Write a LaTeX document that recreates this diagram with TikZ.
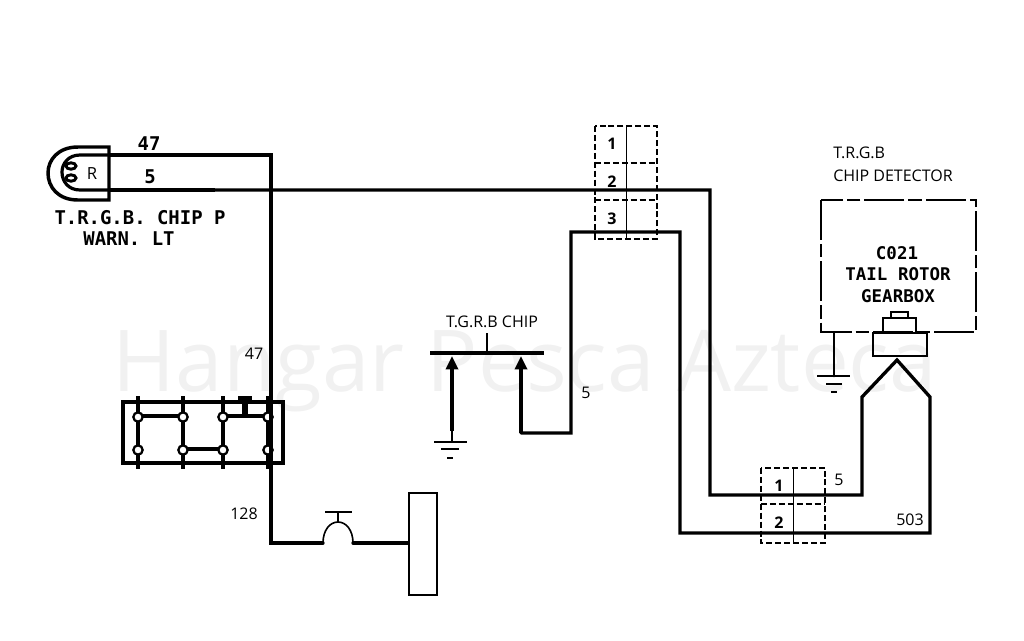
\documentclass[tikz,border=0pt]{standalone}
\usepackage{fontspec}
\setmainfont{Open Sans}
\newfontfamily\scanfont{DejaVu Sans Mono}
\definecolor{wmark}{gray}{0.945}
\usetikzlibrary{arrows.meta}
\tikzset{
  wire/.style={line width=2.5pt,line join=miter,line cap=round},
  thinwire/.style={line width=1.1pt},
  scanwire/.style={line width=2.4pt,line cap=butt},
  conn/.style={line width=1.1pt,dash pattern=on 4.5pt off 2.2pt},
  lbl/.style={inner sep=0pt,font=\fontsize{12}{14}\selectfont},
  numlbl/.style={inner sep=0pt,font=\fontsize{12}{14}\selectfont\bfseries},
  scan/.style={inner sep=0pt,font=\scanfont\bfseries\fontsize{14.2}{16}\selectfont},
  scanb/.style={inner sep=0pt,font=\scanfont\bfseries\fontsize{13.1}{15}\selectfont},
  pin/.style={circle,draw,line width=1.7pt,fill=white,minimum size=7pt,inner sep=0pt},
  arrowwire/.style={line width=2.5pt,-{Triangle[length=10pt,width=9pt]}},
  board/.style={line width=2.6pt},
  gnd/.style={line width=1.6pt}
}
\begin{document}
\begin{tikzpicture}[x=0.75pt,y=-0.75pt]
\useasboundingbox (0,0) rectangle (1024,640);
% watermark
\node[inner sep=0pt,text=wmark,font=\fontsize{64}{70}\selectfont] (wm) at (525,371) {Hangar Pesca Azteca};
% lamp
\coordinate (lt) at (109,155);
\coordinate (lb) at (109,190);
\draw[line width=2.6pt] (109,147) -- (78,147) .. controls (58,147) and (48,160) .. (48,173) .. controls (48,187) and (58,200) .. (78,200) -- (109,200) -- cycle;
\draw[scanwire] (lt) -- (80,155) .. controls (68,155) and (62,164) .. (62,172) .. controls (62,181) and (68,190) .. (80,190) -- (lb);
\draw[line width=2.2pt] (71,166) ellipse[x radius=5,y radius=3.2];
\draw[line width=2.2pt] (71,178) ellipse[x radius=5,y radius=3.2];
\node[inner sep=0pt,font=\fontsize{12.5}{14}\selectfont] (r) at (92,174) {R};
\node[scan] (n47a) at (149,144) {47};
\node[scan] (n5a) at (150,177) {5};
\node[scan] (lampa) at (140,218) {T.R.G.B. CHIP P};
\node[scan] (lampb) at (129,239) {WARN. LT};
% wire 47
\coordinate (a1) at (215,155);
\coordinate (a2) at (271,155);
\coordinate (a3) at (271,543);
\coordinate (sw1) at (323,543);
\coordinate (sw2) at (353,543);
\coordinate (swt) at (338,522);
\coordinate (swb) at (338,512);
\draw[scanwire] (lt) -- (a1);
\draw[wire] (a1) -- (a2) -- (a3) -- (sw1);
\draw[line width=1.2pt] (sw1) .. controls (323,530) and (330,522) .. (swt) .. controls (346,522) and (353,530) .. (sw2);
\draw[thinwire] (swt) -- (swb);
\draw[thinwire] (325,512) -- (352,512);
\node[draw,line width=1.5pt,minimum width=21pt,minimum height=76pt,inner sep=0pt] (pad) at (422.5,544) {};
\coordinate (padin) at (408,543);
\draw[wire] (sw2) -- (padin);
% wire 5 long
\coordinate (b1) at (215,190);
\coordinate (b2) at (710,190);
\coordinate (b3) at (710,495);
\coordinate (b4) at (862,495);
\coordinate (b5) at (862,397);
\coordinate (apex) at (897,360);
\coordinate (c1) at (930,397);
\coordinate (c2) at (930,533);
\coordinate (c3) at (680,533);
\coordinate (c4) at (680,232);
\coordinate (c5) at (571,232);
\coordinate (c6) at (571,433);
\coordinate (c7) at (521,433);
\coordinate (c8) at (521,356);
\coordinate (g1) at (452,431);
\coordinate (g2) at (452,356);
\draw[scanwire] (lb) -- (b1);
\draw[wire] (b1) -- (b2) -- (b3) -- (b4) -- (b5) -- (apex) -- (c1) -- (c2) -- (c3) -- (c4) -- (c5) -- (c6) -- (c7);
\draw[arrowwire] (c7) -- (c8);
\draw[arrowwire] (g1) -- (g2);
% switch
\coordinate (s1) at (430,353);
\coordinate (s2) at (544,353);
\coordinate (s3) at (487,353);
\coordinate (s4) at (487,333);
\draw[wire,line cap=butt] (s1) -- (s2);
\draw[wire,line cap=butt,line width=2pt] (s3) -- (s4);
\node[lbl] (chip) at (492,322) {T.G.R.B CHIP};
\node[lbl] (n5b) at (586,393) {5};
% ground 1
\coordinate (g3) at (452,442);
\draw[thinwire] (g1) -- (g3);
\draw[gnd] (434,442) -- (467,442);
\draw[gnd] (441,449) -- (459,449);
\draw[gnd] (447,458) -- (453,458);
% connector top
\draw[conn] (595,126) rectangle (657,239);
\draw[conn] (595,163) -- (657,163);
\draw[conn] (595,200) -- (657,200);
\draw[line width=0.7pt] (626,126) -- (626,239);
\node[numlbl] (t1) at (612,144) {1};
\node[numlbl] (t2) at (612,182) {2};
\node[numlbl] (t3) at (612,219) {3};
% connector bottom
\draw[conn] (761,468) rectangle (825,543);
\draw[conn] (761,504) -- (825,504);
\draw[line width=0.7pt] (793,468) -- (793,543);
\node[numlbl] (u1) at (779,486) {1};
\node[numlbl] (u2) at (779,523) {2};
\node[lbl] (n5c) at (839,480) {5};
\node[lbl] (n503) at (910,520) {503};
% terminal board
\draw[board] (123,402) rectangle (283,463);
\foreach \x in {138,183,223,268} \draw[board] (\x,396) -- (\x,469);
\draw[board] (138,416) -- (183,416);
\draw[board] (223,416) -- (268,416);
\draw[board] (183,449) -- (223,449);
\draw[line width=5pt] (245,396) -- (245,414);
\draw[board] (238,398) -- (252,398);
\node[pin] (p1) at (138,417) {};
\node[pin] (p2) at (183,417) {};
\node[pin] (p3) at (223,417) {};
\node[pin] (p4) at (268,417) {};
\node[pin] (p5) at (138,450) {};
\node[pin] (p6) at (183,450) {};
\node[pin] (p7) at (223,450) {};
\node[pin] (p8) at (268,450) {};
\draw[wire] (271,396) -- (271,470);
\node[lbl] (n47b) at (254,354) {47};
\node[lbl] (n128) at (244,514) {128};
% detector
\node[lbl,anchor=west] (d1) at (833,153) {T.R.G.B};
\node[lbl,anchor=west] (d2) at (833,176) {CHIP DETECTOR};
\draw[line width=2pt,dash pattern=on 30pt off 3pt on 10pt off 3pt] (821,200) rectangle (976,332);
\node[scanb] (e1) at (897,253) {C021};
\node[scanb] (e2) at (898,274) {TAIL ROTOR};
\node[scanb] (e3) at (898,296) {GEARBOX};
\draw[line width=2pt] (873,333) rectangle (927,356);
\draw[line width=1.8pt] (883,332) -- (883,318) -- (916,318) -- (916,332);
\draw[line width=1.4pt] (891,318) -- (891,312) -- (908,312) -- (908,318);
\coordinate (dg) at (834,333);
\coordinate (dg2) at (834,376);
\draw[wire,line width=2pt] (dg) -- (dg2);
\draw[gnd] (817,376) -- (850,376);
\draw[gnd] (826,384) -- (842,384);
\draw[gnd] (831,392) -- (837,392);
\end{tikzpicture}
\end{document}
